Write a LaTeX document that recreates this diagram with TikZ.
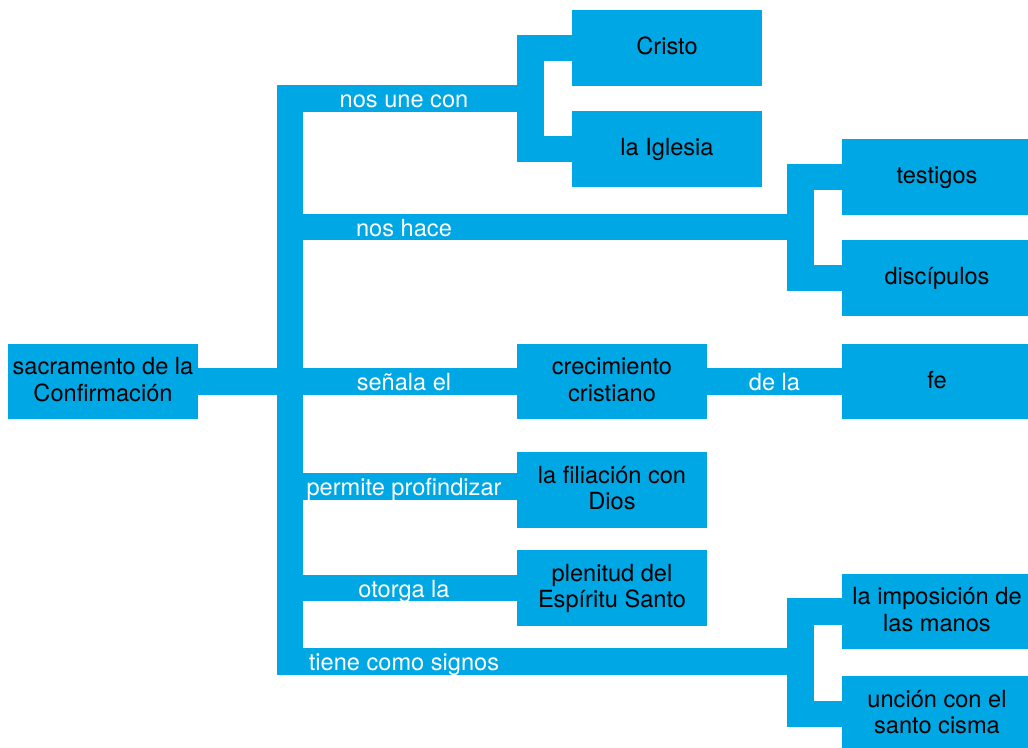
\documentclass[tikz,border=0pt]{standalone}
\usepackage{fontspec}
\setmainfont{TeX Gyre Heros}
\definecolor{mapblue}{RGB}{0,167,229}
\begin{document}
\begin{tikzpicture}[x=1pt,y=-1pt,
  box/.style={fill=mapblue, minimum width=190pt, minimum height=76pt, inner sep=0pt, align=center, text depth=4pt, text=black, font=\fontsize{23.6}{26.5}\selectfont},
  conn/.style={draw=mapblue, line width=26.5pt, line join=miter, line cap=butt},
  lab/.style={text=white, anchor=base, inner sep=0pt, font=\fontsize{23.6}{26.5}\selectfont}]
\useasboundingbox (0,0) rectangle (1028,747);
\clip (0,0) rectangle (1028,747);
% boxes
\node[box, minimum height=75pt] (root) at (103,381.5) {sacramento de la\\Confirmación};
\node[box] (cristo) at (667,48) {Cristo};
\node[box] (iglesia) at (667,149) {la Iglesia};
\node[box] (testigos) at (937,177) {testigos};
\node[box] (disc) at (937,278) {discípulos};
\node[box, minimum height=75pt] (crec) at (612,381.5) {crecimiento\\cristiano};
\node[box, minimum height=75pt] (fe) at (937,381.5) {fe};
\node[box] (fil) at (612,490) {la filiación con\\Dios};
\node[box] (plen) at (612,588) {plenitud del\\Espíritu Santo};
\node[box, minimum height=75pt] (impo) at (937,611.5) {la imposición de\\las manos};
\node[box] (uncion) at (937,714) {unción con el\\santo cisma};
% junctions
\coordinate (top) at (290,98.5);
\coordinate (bot) at (290,661.5);
\coordinate (j1) at (530.5,98.5);
\coordinate (j2) at (800.5,227);
\coordinate (j6) at (800.5,661.5);
% connectors
\draw[conn] (j1) -- (top) -- (bot) -- (j6);
\draw[conn] (290,227) -- (j2);
\draw[conn] (root.east) -- (crec.west);
\draw[conn] (crec.east) -- (fe.west);
\draw[conn] (290,486.5) -- (fil.west |- 290,486.5);
\draw[conn] (290,588) -- (plen.west);
\draw[conn] (cristo.west) -- ++(-41.5,0) |- (iglesia.west);
\draw[conn] (testigos.west) -- ++(-41.5,0) |- (disc.west);
\draw[conn] (impo.west) -- ++(-41.5,0) |- (uncion.west);
% labels
\node[lab] (l1) at (404,107.5) {nos une con};
\node[lab] (l2) at (404,236) {nos hace};
\node[lab] (l3) at (404,390) {señala el};
\node[lab] (l4) at (404,495.5) {permite profindizar};
\node[lab] (l5) at (404,597) {otorga la};
\node[lab] (l6) at (404,670.5) {tiene como signos};
\node[lab] (l7) at (774.5,390) {de la};
\end{tikzpicture}
\end{document}
